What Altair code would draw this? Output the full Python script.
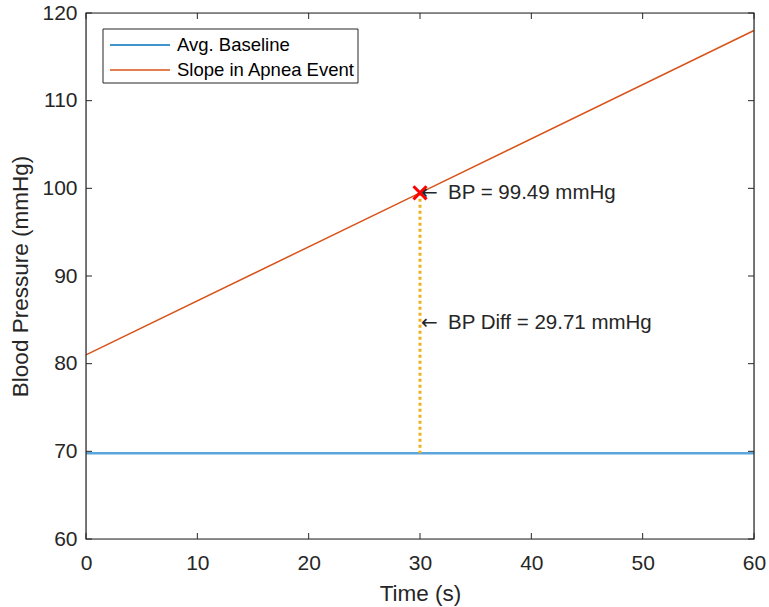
import altair as alt
import pandas as pd

# --- data -------------------------------------------------------------
time_s = [0, 30, 60]                 # time points of the apnea-event slope (s)
slope_bp = [81.0, 99.49, 118.0]      # blood pressure along the slope (mmHg)
baseline_time = [0, 60]
baseline_bp = 69.78                  # average baseline blood pressure (mmHg)
event_time = 30                      # marked time (s)
event_bp = 99.49                     # blood pressure at the marked time (mmHg)
bp_diff = 29.71                      # difference to the baseline (mmHg)
x_ticks = [0, 10, 20, 30, 40, 50, 60]
y_ticks = [60, 70, 80, 90, 100, 110, 120]
series_names = ["Avg. Baseline", "Slope in Apnea Event"]

FONT = "Liberation Sans"
INK = "#262626"
BLUE = "#0072BD"
ORANGE = "#D95319"
YELLOW = "#EDB120"
W, H = 668, 526
TICK = 6

slope_df = pd.DataFrame({"t": time_s, "bp": slope_bp})
base_df = pd.DataFrame({"t": baseline_time, "bp": [baseline_bp] * len(baseline_time)})
event_df = pd.DataFrame({"t": [event_time], "bp": [event_bp], "bp0": [baseline_bp]})
notes_df = pd.DataFrame({
    "t": [event_time, event_time],
    "bp": [event_bp, (event_bp + baseline_bp) / 2],
    "label": [f"BP = {event_bp:.2f} mmHg", f"BP Diff = {bp_diff:.2f} mmHg"],
})
xt_df = pd.DataFrame({"t": x_ticks})
yt_df = pd.DataFrame({"bp": y_ticks})
one = pd.DataFrame({"k": [0]})

xs = alt.Scale(domain=[0, 60], nice=False, zero=False)
ys = alt.Scale(domain=[60, 120], nice=False, zero=False)

x_axis = alt.Axis(values=x_ticks, ticks=False, domain=False, grid=False,
                  labelFlush=False, labelPadding=13, titlePadding=9, title="Time (s)")
y_axis = alt.Axis(values=y_ticks, ticks=False, domain=False, grid=False,
                  labelFlush=False, labelPadding=9, titlePadding=9,
                  title="Blood Pressure (mmHg)")

X = alt.X("t:Q", scale=xs, axis=x_axis)
Y = alt.Y("bp:Q", scale=ys, axis=y_axis)

# inward tick marks on all four sides of the box
ticks = alt.layer(
    alt.Chart(yt_df).mark_rule(color=INK, strokeWidth=1).encode(
        y=Y, x=alt.value(0), x2=alt.value(TICK)),
    alt.Chart(yt_df).mark_rule(color=INK, strokeWidth=1).encode(
        y=Y, x=alt.value(W), x2=alt.value(W - TICK)),
    alt.Chart(xt_df).mark_rule(color=INK, strokeWidth=1).encode(
        x=X, y=alt.value(H), y2=alt.value(H - TICK)),
    alt.Chart(xt_df).mark_rule(color=INK, strokeWidth=1).encode(
        x=X, y=alt.value(0), y2=alt.value(TICK)),
)

# axes box
frame = alt.Chart(one).mark_rect(filled=False, stroke=INK, strokeWidth=1.2).encode(
    x=alt.value(0), x2=alt.value(W), y=alt.value(0), y2=alt.value(H))

baseline = alt.Chart(base_df).mark_line(color="#5aa5dc", strokeWidth=2.5).encode(x=X, y=Y)
slope = alt.Chart(slope_df).mark_line(color=ORANGE, strokeWidth=1.5).encode(x=X, y=Y)

diff_rule = alt.Chart(event_df).mark_rule(
    color=YELLOW, strokeWidth=3, strokeDash=[3, 3]
).encode(x=X, y=Y, y2="bp0:Q")

marker = alt.Chart(event_df).mark_point(
    shape="M-1,-1L1,1M-1,1L1,-1", filled=False, color="#FF0000", strokeWidth=3,
    size=170, opacity=1
).encode(x=X, y=Y)

# annotation arrows pointing at the marked time, followed by their labels
arrows = alt.Chart(notes_df).mark_text(
    align="left", baseline="middle", font="DejaVu Sans", fontSize=20, color=INK, dx=1
).encode(x=X, y=Y, text=alt.value("\u2190"))

notes = alt.Chart(notes_df).mark_text(
    align="left", baseline="middle", font=FONT, fontSize=20.5, color=INK, dx=28
).encode(x=X, y=Y, text="label:N")

# legend box in the upper-left corner
legend = alt.layer(
    alt.Chart(one).mark_rect(fill="white", stroke=INK, strokeWidth=1).encode(
        x=alt.value(17), x2=alt.value(272), y=alt.value(16), y2=alt.value(70)),
    alt.Chart(one).mark_rule(color=BLUE, strokeWidth=1.5).encode(
        x=alt.value(24), x2=alt.value(84), y=alt.value(32)),
    alt.Chart(one).mark_rule(color=ORANGE, strokeWidth=1.5).encode(
        x=alt.value(24), x2=alt.value(84), y=alt.value(57)),
    alt.Chart(one).mark_text(align="left", baseline="middle", font=FONT,
                             fontSize=18.5, color="#000000").encode(
        x=alt.value(91), y=alt.value(32), text=alt.value(series_names[0])),
    alt.Chart(one).mark_text(align="left", baseline="middle", font=FONT,
                             fontSize=18.5, color="#000000").encode(
        x=alt.value(91), y=alt.value(57), text=alt.value(series_names[1])),
)

chart = alt.layer(
    baseline, slope, diff_rule, marker, arrows, notes, ticks, frame, legend
).properties(
    width=W, height=H,
    autosize=alt.AutoSizeParams(type="none"),
    padding={"left": 86, "top": 13, "right": 15, "bottom": 68},
).configure_view(
    stroke=None, fill="white"
).configure(
    background="white"
).configure_axis(
    labelFont=FONT, titleFont=FONT, labelFontSize=21, titleFontSize=22.5,
    labelColor=INK, titleColor=INK, titleFontWeight="normal"
)

chart.save("out.html", embed_options={"renderer": "svg", "actions": False})
